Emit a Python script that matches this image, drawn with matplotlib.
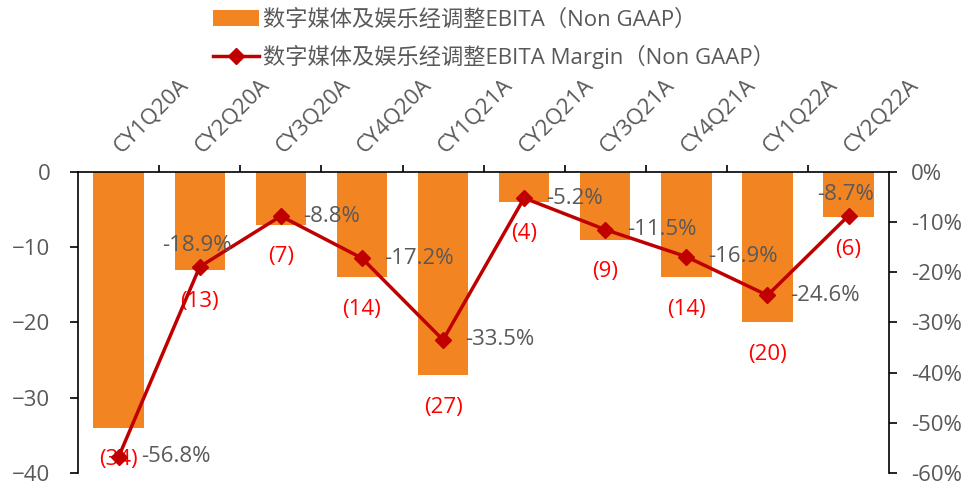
import numpy as np
import matplotlib
matplotlib.use("Agg")
import matplotlib.pyplot as plt
from matplotlib.ticker import FuncFormatter

plt.rcParams['font.family'] = ['Open Sans', 'Noto Sans CJK SC', 'DejaVu Sans']

# ==========================
# DATA
# ==========================
quarters = ["CY1Q20A", "CY2Q20A", "CY3Q20A", "CY4Q20A", "CY1Q21A",
            "CY2Q21A", "CY3Q21A", "CY4Q21A", "CY1Q22A", "CY2Q22A"]
ebita = [-34, -13, -7, -14, -27, -4, -9, -14, -20, -6]
margin = [-56.8, -18.9, -8.8, -17.2, -33.5, -5.2, -11.5, -16.9, -24.6, -8.7]
margin_label_pos = ["right", "above", "right", "right", "right",
                    "right", "right", "right", "right", "above"]

bar_name = "数字媒体及娱乐经调整EBITA（Non GAAP）"
line_name = "数字媒体及娱乐经调整EBITA Margin（Non GAAP）"

# ==========================
# STYLE
# ==========================
BAR_COLOR = "#F28522"
LINE_COLOR = "#C00000"
TEXT_COLOR = "#595959"
FS = 16

fig = plt.figure(figsize=(9.76, 4.83), dpi=100)
ax = fig.add_axes([0.080, 0.021, 0.831, 0.623])
ax2 = ax.twinx()

x = np.arange(len(quarters))

bars = ax.bar(x, ebita, width=0.62, color=BAR_COLOR, label=bar_name, zorder=2)
line, = ax2.plot(x, margin, color=LINE_COLOR, lw=2.5, marker="D", ms=8,
                 label=line_name, zorder=3)

# bar labels (below bar end)
for xi, v in zip(x, ebita):
    ax.annotate(f"({abs(v)})", (xi, v), xytext=(0, -23), textcoords="offset points",
                ha="center", va="center", color="red", fontsize=FS, zorder=4)

# line labels
for xi, v, pos in zip(x, margin, margin_label_pos):
    if pos == "above":
        ax2.annotate(f"{v:.1f}%", (xi, v), xytext=(-2, 15), textcoords="offset points",
                     ha="center", va="center", color=TEXT_COLOR, fontsize=FS, zorder=5)
    else:
        ax2.annotate(f"{v:.1f}%", (xi, v), xytext=(16, 0), textcoords="offset points",
                     ha="left", va="center", color=TEXT_COLOR, fontsize=FS, zorder=5)

# axes
ax.set_xlim(-0.5, len(quarters) - 0.5)
ax.set_ylim(-40, 0)
ax.set_yticks([0, -10, -20, -30, -40])
ax2.set_ylim(-60, 0)
ax2.set_yticks(np.arange(0, -61, -10))
ax2.yaxis.set_major_formatter(FuncFormatter(lambda v, p: f"{v:.0f}%"))

ax.xaxis.tick_top()
ax.set_xticks(x)
ax.set_xticklabels([])
ax.set_xticks(np.arange(0.5, len(quarters) - 0.5, 1), minor=True)
ax.tick_params(axis="x", which="major", length=0)
ax.tick_params(axis="x", which="minor", length=5, width=1.2, color="black", direction="out")
for xi, q in zip(x, quarters):
    ax.text(xi - 0.02, 1.075, q, transform=ax.get_xaxis_transform(), rotation=45,
            rotation_mode="anchor", ha="left", va="center", color=TEXT_COLOR,
            fontsize=FS)

for a in (ax, ax2):
    a.spines["bottom"].set_visible(False)
    for s in ("left", "right", "top"):
        a.spines[s].set_color("black")
        a.spines[s].set_linewidth(1.2)
ax.spines["right"].set_visible(False)
ax2.spines["left"].set_visible(False)
ax2.spines["top"].set_visible(False)

ax.tick_params(axis="y", length=6, width=1.2, pad=14, labelsize=FS, labelcolor=TEXT_COLOR)
ax2.tick_params(axis="y", length=6, width=1.2, pad=10, labelsize=FS, labelcolor=TEXT_COLOR)

fig.legend(handles=[bars, line], loc="upper left", bbox_to_anchor=(0.198, 1.022),
           frameon=False, fontsize=FS, labelcolor=TEXT_COLOR, handlelength=2.05,
           handletextpad=0.18, labelspacing=0.65)

fig.savefig("out.png", dpi=100)
